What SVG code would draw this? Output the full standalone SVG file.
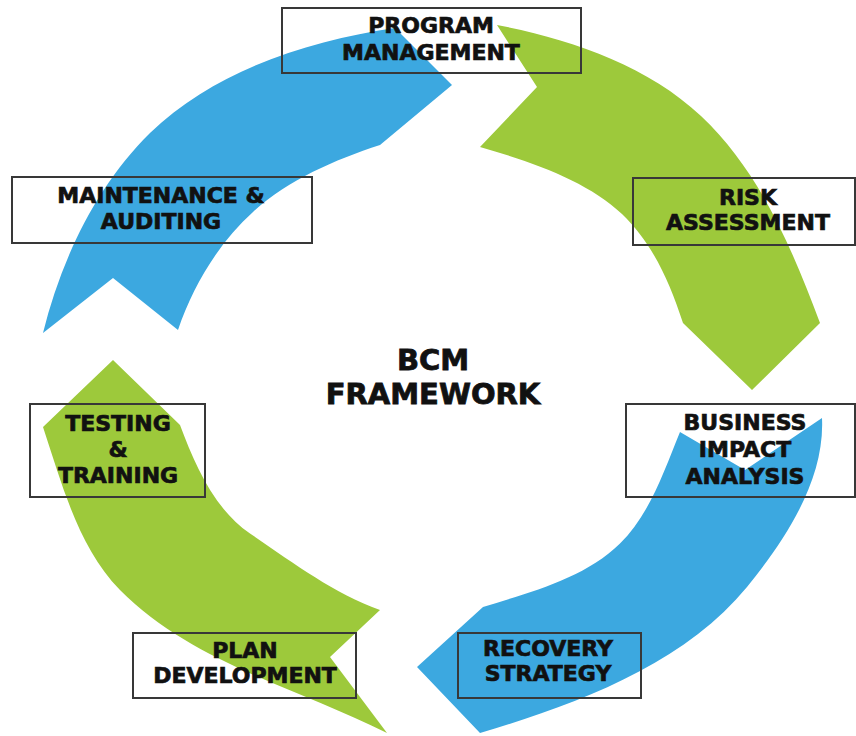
<svg xmlns="http://www.w3.org/2000/svg" width="856" height="736" viewBox="0 0 856 736">
  <style>
    .blue { fill: #3ca8e0; }
    .green { fill: #9dc93b; }
    .box { fill: none; stroke: #383838; stroke-width: 2; }
    .lbl { font-family: "DejaVu Sans", "Liberation Sans", sans-serif; font-weight: bold; font-size: 22px; fill: #111; stroke: #111; stroke-width: 0.7; text-anchor: middle; }
    .title { font-family: "DejaVu Sans", "Liberation Sans", sans-serif; font-weight: bold; font-size: 29px; fill: #111; stroke: #111; stroke-width: 0.8; text-anchor: middle; }
  </style>
  <rect width="856" height="736" fill="#ffffff"/>
  <g id="connectors">
    <path id="arrow-blue-tl" class="blue" d="M43,333 C61,260 96,186 150,133 C214,71 307,41 395,28 L452,85 L380,145 C334,160 288,180 253,212 C218.5,243 193,286 178,330 L113,278 Z"/>
    <path id="arrow-green-tr" class="green" d="M497,25 C570,39 647,65 701,116 C759,170.5 792,248 820,323 L752,390 L683,323 C669,280 652,243 622,214 C588,182 536,163 480,147 L537,87 Z"/>
    <path id="arrow-blue-br" class="blue" d="M822,418 C825,479.5 786,539 747,587 C683,665 577,704 480,733 L417,667 L483,607 C531,592 584,578.6 620,543.5 C650,514 664,471 680,432 L745,470 Z"/>
    <path id="arrow-green-bl" class="green" d="M387,733 C297,688 191,662 120,590 C78,547 62,484 43,427 L113,360 L180,425 C195,465 214,509 250,533.5 C292,562 333,593 380,610 L330,657 Z"/>
  </g>
  <g id="center">
    <text class="title" x="433" y="370">BCM</text>
    <text class="title" x="433" y="404">FRAMEWORK</text>
  </g>
  <g id="program-management">
    <rect class="box" x="282" y="8" width="299" height="65"/>
    <text class="lbl" x="431" y="33">PROGRAM</text>
    <text class="lbl" x="431" y="60">MANAGEMENT</text>
  </g>
  <g id="risk-assessment">
    <rect class="box" x="633" y="178" width="222" height="67"/>
    <text class="lbl" x="748" y="205">RISK</text>
    <text class="lbl" x="748" y="230">ASSESSMENT</text>
  </g>
  <g id="business-impact-analysis">
    <rect class="box" x="626" y="404" width="229" height="93"/>
    <text class="lbl" x="745" y="430">BUSINESS</text>
    <text class="lbl" x="745" y="457">IMPACT</text>
    <text class="lbl" x="745" y="484">ANALYSIS</text>
  </g>
  <g id="recovery-strategy">
    <rect class="box" x="458" y="633" width="183" height="65"/>
    <text class="lbl" x="548" y="656">RECOVERY</text>
    <text class="lbl" x="548" y="681">STRATEGY</text>
  </g>
  <g id="plan-development">
    <rect class="box" x="133" y="633" width="223" height="65"/>
    <text class="lbl" x="245" y="658">PLAN</text>
    <text class="lbl" x="245" y="683">DEVELOPMENT</text>
  </g>
  <g id="testing-training">
    <rect class="box" x="30" y="404" width="175" height="93"/>
    <text class="lbl" x="118" y="431">TESTING</text>
    <text class="lbl" x="118" y="457">&amp;</text>
    <text class="lbl" x="118" y="483">TRAINING</text>
  </g>
  <g id="maintenance-auditing">
    <rect class="box" x="12" y="177" width="300" height="66"/>
    <text class="lbl" x="161" y="203">MAINTENANCE &amp;</text>
    <text class="lbl" x="161" y="229">AUDITING</text>
  </g>
</svg>
